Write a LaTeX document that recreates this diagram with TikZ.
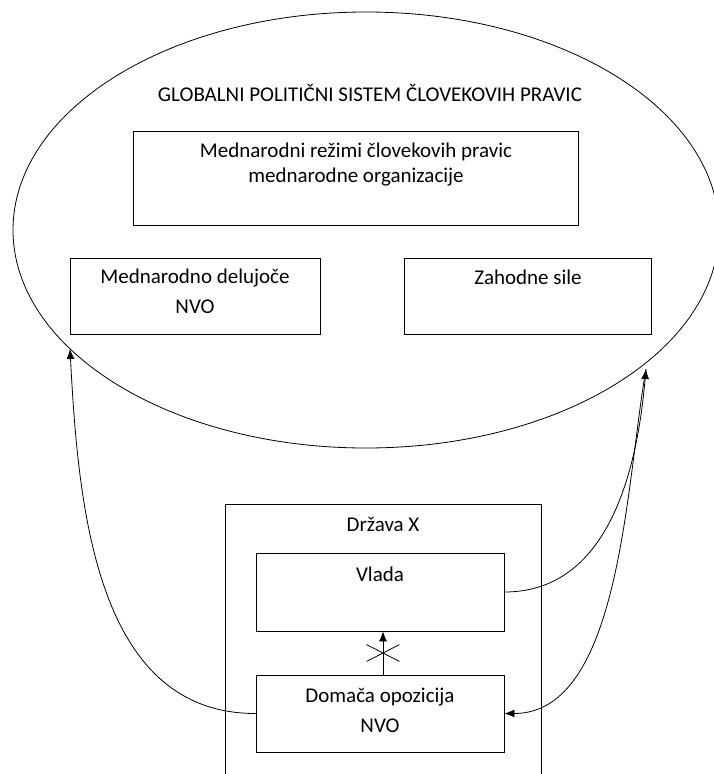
\documentclass[tikz,border=0pt]{standalone}
\usepackage{fontspec}
\setmainfont{Carlito}
\usetikzlibrary{arrows.meta}
\usetikzlibrary{shapes}

\begin{document}
\begin{tikzpicture}[>={Latex[length=10pt,width=8pt]}, x=1pt, y=1pt, line width=0.8pt, every node/.style={inner sep=0pt, font=\fontsize{21}{29}\selectfont}]
		\useasboundingbox (0,0) rectangle (713,-774);
		%Global system
		\node [ellipse,draw,minimum width=706,minimum height=436] (global) at (366,-230) {};
		\node [anchor=base] (title) at (370,-101) {GLOBALNI POLITIČNI SISTEM ČLOVEKOVIH PRAVIC};
		\node [rectangle,draw,minimum width=445,minimum height=94] (regimes) at (355.5,-178) {};
		\node [anchor=base,align=center,font=\fontsize{21}{25}\selectfont] (regimestext) at (356,-182) {Mednarodni režimi človekovih pravic\\mednarodne organizacije};
		\node [rectangle,draw,minimum width=250,minimum height=76] (ngo) at (195,-296) {};
		\node [anchor=base,align=center,font=\fontsize{21}{30}\selectfont] (ngotext) at (195,-313) {Mednarodno delujoče\\NVO};
		\node [rectangle,draw,minimum width=247,minimum height=76] (west) at (527.5,-296) {};
		\node [anchor=base] (westtext) at (528,-284) {Zahodne sile};
		%State
		\node [rectangle,draw,minimum width=316,minimum height=276] (state) at (383,-642) {};
		\node [anchor=base] (statetext) at (383,-531) {Država X};
		\node [rectangle,draw,minimum width=248,minimum height=78] (gov) at (380,-592) {};
		\node [anchor=base] (govtext) at (380,-581) {Vlada};
		\node [rectangle,draw,minimum width=248,minimum height=77] (opp) at (380,-713.5) {};
		\node [anchor=base,align=center,font=\fontsize{21}{30}\selectfont] (opptext) at (380,-732) {Domača opozicija\\NVO};
		\draw[->] ([xshift=3]opp.north) -- node [cross out,draw,minimum width=32,minimum height=16] (cross) {} ([xshift=3]gov.south);
		%Links to the global system
		\coordinate (lefttip) at (70,-349);
		\coordinate (righttip) at (646,-369);
		\draw[->] (opp.west) to [out=180,in=-87] (lefttip);
		\draw[->] (gov.east) to [out=0,in=-95] (righttip);
		\draw[->] (righttip) to [out=-100,in=0,looseness=0.8] (opp.east);
\end{tikzpicture}
\end{document}
